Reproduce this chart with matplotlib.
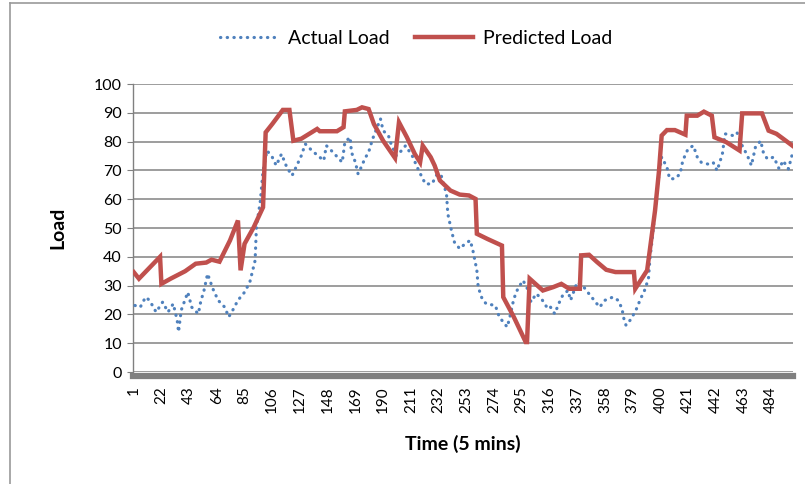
import matplotlib
matplotlib.use("Agg")
import matplotlib.pyplot as plt
from matplotlib.lines import Line2D

plt.rcParams['font.family'] = ['Lato', 'DejaVu Sans']

# time index (5 min steps) and load values
actual_t = [2, 6, 10, 13, 18, 23, 27, 31, 34, 35,
            37, 42, 45, 50, 52, 54, 57, 61, 65, 70,
            73, 76, 80, 85, 89, 93, 94, 97, 99, 102,
            106, 109, 113, 117, 121, 124, 128, 131, 136, 142,
            145, 147, 152, 159, 161, 165, 166, 169, 171, 174,
            176, 179, 182, 188, 190, 194, 196, 200, 204, 207,
            212, 217, 222, 227, 231, 234, 238, 239, 242, 244,
            248, 252, 256, 258, 261, 262, 265, 268, 275, 278,
            282, 284, 286, 289, 292, 296, 300, 302, 306, 310,
            314, 316, 320, 323, 326, 330, 332, 337, 342, 345,
            349, 354, 358, 364, 368, 371, 372, 374, 378, 382,
            385, 388, 391, 392, 394, 396, 398, 401, 405, 407,
            411, 415, 417, 421, 425, 428, 431, 436, 440, 443,
            447, 449, 455, 458, 462, 466, 469, 472, 476, 478,
            481, 486, 490, 493, 497, 500]
actual_load = [23.1, 22.5, 26, 24.9, 20.8, 24.3, 20.8, 23.7, 17.9, 13.9,
               21.4, 27.7, 22.5, 20.2, 24.9, 27.7, 34.1, 28.9, 24.9, 22.5,
               19.1, 21.4, 24.9, 27.7, 31.2, 38.7, 50.3, 59.5, 69.9, 76.9,
               74.6, 71.7, 75.7, 71.1, 68.2, 71.1, 75.1, 79.2, 76.9, 74.6,
               73.4, 78.6, 76.3, 72.8, 79.8, 81.5, 76.3, 72.8, 68.8, 71.7,
               74, 76.3, 80.9, 87.9, 83.8, 82.1, 79.2, 75.1, 76.9, 78.6,
               75.1, 69.9, 65.3, 65.3, 68.8, 68.2, 61.8, 54.9, 48.6, 45.1,
               42.8, 44.5, 45.7, 42.2, 35.3, 29.5, 25.4, 23.7, 23.1, 19.1,
               16.8, 15.6, 19.1, 25.4, 28.9, 31.8, 28.3, 24.3, 27.2, 25.4,
               22.5, 23.1, 20.2, 23.7, 26.6, 28.3, 24.9, 31.2, 29.5, 27.7,
               25.4, 22.5, 24.9, 26, 24.9, 22, 19.1, 16.2, 18.5, 22,
               25.4, 28.3, 32.4, 38.7, 46.8, 56.1, 65.3, 74.6, 71.1, 67.1,
               67.1, 68.8, 73.4, 77.5, 78.6, 74.6, 72.8, 72.2, 72.8, 69.9,
               75.7, 82.7, 82.1, 83.2, 78.6, 75.1, 71.7, 78, 80.3, 76.3,
               74, 74.6, 70.5, 73.4, 70.5, 75.7]

pred_t = [1, 5, 21, 22, 29, 40, 48, 56, 60, 66,
          74, 80, 82, 85, 92, 99, 101, 106, 114, 119,
          122, 128, 140, 142, 155, 160, 161, 170, 174, 179,
          183, 190, 199, 202, 208, 214, 218, 220, 226, 229,
          233, 241, 248, 255, 260, 261, 269, 280, 281, 289,
          298, 299, 301, 311, 319, 325, 331, 339, 340, 346,
          352, 359, 366, 380, 381, 390, 392, 396, 399, 401,
          405, 411, 419, 420, 428, 433, 439, 441, 450, 460,
          462, 469, 477, 482, 488, 493, 500]
pred_load = [34.7, 32.4, 40, 30.6, 32.4, 35, 37.6, 38, 39, 38.3,
             45.7, 52.6, 35.3, 44.5, 50.3, 57.2, 83.2, 86.1, 91, 91,
             80.3, 81, 84.4, 83.6, 83.6, 85, 90.5, 91, 91.9, 91.3,
             86.1, 80.3, 74.3, 86.7, 81.5, 75.7, 72.8, 78.6, 74.6, 71.7,
             66.5, 63, 61.6, 61.3, 60.1, 48, 46.2, 43.9, 26, 19.1,
             10.4, 10.4, 32.4, 28.3, 29.5, 30.6, 28.9, 28.9, 40.5, 40.7,
             38.2, 35.5, 34.7, 34.7, 28.9, 35.3, 42.2, 56.1, 69.9, 82.1,
             84, 84, 82.4, 89, 89, 90.4, 89, 81.5, 79.8, 76.9,
             89.8, 89.8, 89.8, 83.8, 82.7, 81, 78.6]

x_ticks = list(range(1, 500, 21))
y_ticks = list(range(0, 101, 10))

blue = '#4f81bd'
red = '#c0504d'

fig = plt.figure(figsize=(8.05, 4.84), dpi=100)

# chart-area border (top and left visible)
fig.add_artist(Line2D([0.012, 1.0], [0.994, 0.994], color='#9a9a9a', lw=1.2))
fig.add_artist(Line2D([0.012, 0.012], [0.0, 0.994], color='#9a9a9a', lw=1.2))

ax = fig.add_axes([133 / 805, 1 - 372 / 484, 660 / 805, 288 / 484])

ax.plot(actual_t, actual_load, color=blue, lw=2.3, linestyle=(0, (0.1, 2.0)),
        dash_capstyle='round', label='Actual Load', zorder=3)
ax.plot(pred_t, pred_load, color=red, lw=3.2, solid_joinstyle='miter',
        label='Predicted Load', zorder=4)

ax.set_xlim(0.5, 500.5)
ax.set_ylim(0, 100)
ax.set_yticks(y_ticks)
ax.set_xticks(x_ticks)
ax.set_xticklabels([str(v) for v in x_ticks])
ax.tick_params(axis='y', labelsize=11.5, length=4, color='#808080', pad=4)
ax.tick_params(axis='x', labelsize=11, length=0, pad=7, labelrotation=90)
for lbl in ax.get_xticklabels():
    lbl.set_family(['DejaVu Sans'])
    lbl.set_fontsize(10)

ax.grid(axis='y', color='#8c8c8c', lw=1.2)
ax.set_axisbelow(True)

for side in ['top', 'right']:
    ax.spines[side].set_visible(False)
ax.spines['left'].set_color('#808080')
ax.spines['left'].set_linewidth(1.0)
ax.spines['bottom'].set_color('#808080')
ax.spines['bottom'].set_linewidth(4.5)
ax.spines['bottom'].set_position(('outward', 3))

ax.set_ylabel('Load', fontsize=14, fontweight='bold', labelpad=20)
ax.set_xlabel('Time (5 mins)', fontsize=14, fontweight='bold', labelpad=16)

fig.legend(loc='center', bbox_to_anchor=(0.517, 0.92), ncol=2, frameon=False,
           fontsize=14, handlelength=3.0, columnspacing=1.3, handletextpad=0.5)

fig.savefig('out.png', dpi=100)
